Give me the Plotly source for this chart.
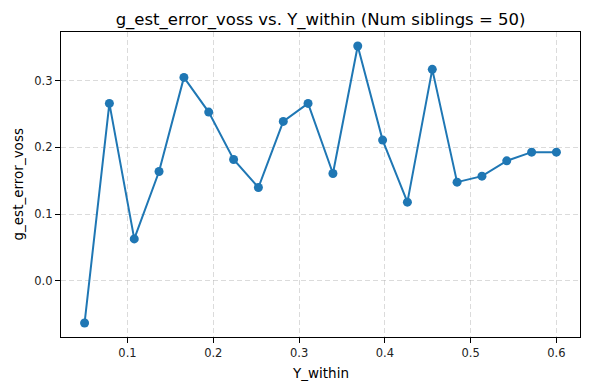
import plotly.graph_objects as go

y_within = [0.05, 0.0789, 0.1079, 0.1368, 0.1658, 0.1947, 0.2237, 0.2526, 0.2816, 0.3105,
            0.3395, 0.3684, 0.3974, 0.4263, 0.4553, 0.4842, 0.5132, 0.5421, 0.5711, 0.6]
g_est_error_voss = [-0.063, 0.266, 0.063, 0.164, 0.305, 0.253, 0.182, 0.140, 0.239, 0.266,
                    0.161, 0.352, 0.211, 0.118, 0.317, 0.148, 0.157, 0.180, 0.193, 0.193]
x_ticks = [0.1, 0.2, 0.3, 0.4, 0.5, 0.6]
y_ticks = [0.0, 0.1, 0.2, 0.3]

fig = go.Figure(go.Scatter(
    x=y_within, y=g_est_error_voss, mode="lines+markers",
    line=dict(color="#1f77b4", width=2),
    marker=dict(color="#1f77b4", size=9),
))

axis_common = dict(
    showline=True, linecolor="black", linewidth=1.2, mirror=True,
    ticks="outside", ticklen=5, tickwidth=1, tickcolor="black",
    showgrid=True, gridcolor="rgba(176,176,176,0.45)", griddash="5px,3px", gridwidth=1,
    zeroline=False, tickfont=dict(size=11.5, color="#222"), automargin=False,
)

fig.update_layout(
    width=590, height=390,
    paper_bgcolor="white", plot_bgcolor="white",
    font=dict(family="DejaVu Sans", color="black"),
    title=dict(text="g_est_error_voss vs. Y_within (Num siblings = 50)",
               x=0.5433, xanchor="center", y=1 - 19 / 390, yanchor="middle",
               font=dict(size=16.5, color="black")),
    margin=dict(l=61, r=10, t=32, b=53),
    showlegend=False,
    annotations=[
        dict(text="Y_within", xref="paper", yref="paper", x=0.5, y=0,
             xanchor="center", yanchor="middle", yshift=-36, showarrow=False,
             font=dict(size=13.5, color="black")),
        dict(text="g_est_error_voss", xref="paper", yref="paper", x=0, y=0.5,
             xanchor="center", yanchor="middle", xshift=-44, textangle=-90,
             showarrow=False, font=dict(size=13.5, color="black")),
    ],
)
fig.update_xaxes(range=[0.0225, 0.6275], tickvals=x_ticks,
                 ticktext=[f"{v:.1f}" for v in x_ticks], **axis_common)
fig.update_yaxes(range=[-0.084, 0.373], tickvals=y_ticks,
                 ticktext=[f"{v:.1f}" for v in y_ticks], **axis_common)

fig.write_html("out.html", config={"displayModeBar": False},
               post_script="document.body.style.margin='0';")
